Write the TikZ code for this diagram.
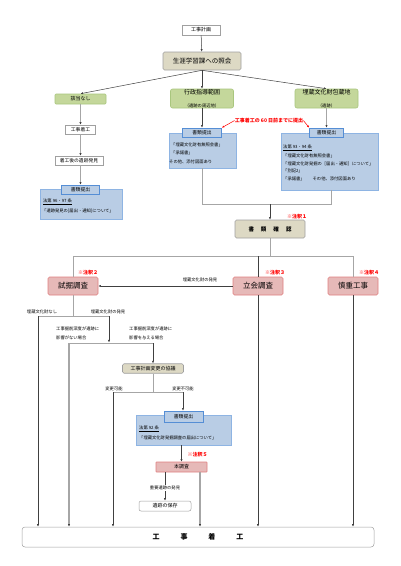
\documentclass[tikz,border=0pt]{standalone}
\usepackage{fontspec}
\setmainfont{Noto Sans CJK JP}
\usetikzlibrary{arrows.meta}
\definecolor{tanc}{HTML}{DDD9C4}
\definecolor{boxgray}{HTML}{A0A0A0}
\definecolor{greenc}{HTML}{C4D79B}
\definecolor{greenb}{HTML}{A9C67E}
\definecolor{bluec}{HTML}{B9CDE5}
\definecolor{blueb}{HTML}{8EB4E3}
\definecolor{tabb}{HTML}{558ED5}
\definecolor{pinkc}{HTML}{E6B9B8}
\definecolor{pinkb}{HTML}{E08080}
\definecolor{grayl}{HTML}{A6A6A6}
\definecolor{darkl}{HTML}{404040}
\definecolor{notered}{HTML}{FF0000}
\newcommand\fsz[1]{\fontsize{#1}{#1}\selectfont}
\tikzset{
  base/.style={inner sep=0pt, align=center, text=black},
  whitebox/.style={base, draw=boxgray, fill=white, line width=0.5pt},
  tanbox/.style={base, draw=boxgray, fill=tanc, rounded corners=1.5pt, line width=0.6pt},
  greenbox/.style={base, draw=greenb, fill=greenc, rounded corners=2pt, line width=0.6pt},
  bluebox/.style={base, draw=blueb, fill=bluec, line width=0.6pt},
  tabbox/.style={base, draw=tabb, fill=bluec, line width=0.6pt, font=\fsz{4.8}},
  pinkbox/.style={base, draw=pinkb, fill=pinkc, rounded corners=1.5pt, line width=0.6pt},
  tip/.style={-{Latex[length=2.6pt,width=2.2pt,color=darkl]}},
  darkarrow/.style={draw=darkl, line width=0.5pt, tip},
  darkline/.style={draw=darkl, line width=0.5pt},
  grayline/.style={draw=grayl, line width=0.6pt},
  graythick/.style={draw=grayl, line width=1.6pt, tip},
  redarrow/.style={draw=notered, line width=0.5pt, -{Latex[length=2.4pt,width=2pt]}},
  note/.style={inner sep=0pt, text=notered, font=\fsz{5}\bfseries},
  lbl/.style={inner sep=0pt, font=\fsz{4.3}},
}
\begin{document}
\begin{tikzpicture}[x=1pt,y=-1pt]
\useasboundingbox (0,0) rectangle (400,566);
\fill[white] (0,0) rectangle (400,566);

% top
\node[whitebox, minimum width=38pt, minimum height=10pt, font=\fsz{5}] (plan) at (201,30) {工事計画};
\node[tanbox, minimum width=78pt, minimum height=18pt, font=\fsz{6.5}] (shogai) at (202,61) {生涯学習課への照会};
\node[greenbox, rounded corners=1pt, minimum width=51pt, minimum height=10pt, font=\fsz{5}] (gaitou) at (80.5,99) {該当なし};
\node[greenbox, minimum width=63pt, minimum height=19pt] (gyosei) at (202,98.5) {\fsz{6}行政指導範囲\\[1pt]\fsz{4.3}（遺跡の周辺地）};
\node[greenbox, minimum width=63pt, minimum height=19pt] (maizo) at (326.5,98.5) {\fsz{6}埋蔵文化財包蔵地\\[1pt]\fsz{4.3}（遺跡）};

\draw[darkarrow] (plan) -- (shogai);
\draw[darkarrow] (shogai.south) -- (gaitou.north);
\draw[darkarrow] (shogai.south) -- (gyosei.north);
\draw[darkarrow] (shogai.south) -- (maizo.north);

% left column
\node[whitebox, minimum width=30pt, minimum height=9pt, font=\fsz{4.8}] (chako1) at (80.5,129.5) {工事着工};
\node[whitebox, minimum width=48pt, minimum height=9pt, font=\fsz{4.8}] (hakken) at (79,160.5) {着工後の遺跡発見};
\node[bluebox, minimum width=82pt, minimum height=30pt] (doc1) at (81,204) {};
\node[tabbox, minimum width=38pt, minimum height=9pt] (tab1) at (80.5,189.5) {書類提出};
\node[lbl, anchor=west] (t1a) at (43,202) {\underline{法第 96・97 条}};
\node[lbl, anchor=west] (t1b) at (42,211) {「遺跡発見の[届出・通知]について」};

\draw[graythick] (gaitou) -- (chako1);
\draw[graythick] (chako1.south) -- (chako1.south |- hakken.north);
\draw[graythick] (hakken.south -| tab1.north) -- (tab1.north);

% middle documents
\node[bluebox, minimum width=67pt, minimum height=35pt] (doc2) at (202.5,150.5) {};
\node[tabbox, minimum width=39pt, minimum height=9pt] (tab2) at (202,132.5) {書類提出};
\node[lbl, anchor=west] (t2a) at (171,145) {「埋蔵文化財有無照会書」};
\node[lbl, anchor=west] (t2b) at (171,153) {「承諾書」};
\node[lbl, anchor=west] (t2c) at (169,161.5) {その他、添付図面あり};

\node[bluebox, minimum width=97pt, minimum height=57pt] (doc3) at (329.5,161.5) {};
\node[tabbox, minimum width=34pt, minimum height=9pt] (tab3) at (326.5,132.5) {書類提出};
\node[lbl, anchor=west] (t3a) at (283,148) {\underline{法第 93・94 条}};
\node[lbl, anchor=west] (t3b) at (283,155.7) {「埋蔵文化財有無照会書」};
\node[lbl, anchor=west] (t3c) at (283,163.4) {「埋蔵文化財発掘の［届出・通知］について」};
\node[lbl, anchor=west] (t3d) at (283,171.1) {「別記2」};
\node[lbl, anchor=west] (t3e) at (283,178.8) {「承諾書」\hspace{8pt}その他、添付図面あり};

\draw[darkarrow] (gyosei.south) -- (tab2.north);
\draw[graythick] (maizo.south) -- (tab3.north);

\node[note] (due) at (269,120.5) {工事着工の 60 日前までに提出};
\draw[redarrow] (due.west) -- (tab2.north east);
\draw[redarrow] (due.east) -- (tab3.north west);

% document check
\node[tanbox, minimum width=70pt, minimum height=18pt, font=\fsz{5.5}\bfseries] (kakunin) at (270,229) {書\hspace{7pt}類\hspace{7pt}確\hspace{7pt}認};
\node[note] (n1) at (297,217) {※注釈１};
\coordinate (j3) at (331,204);
\coordinate (jm) at (270,204);
\draw[grayline] (doc2.south) |- (j3) -- (j3 |- doc3.south);
\draw[darkarrow] (jm) -- (kakunin.north);

% three surveys
\node[pinkbox, minimum width=50pt, minimum height=18pt, font=\fsz{7.5}] (shikutsu) at (73,286) {試掘調査};
\node[pinkbox, minimum width=50pt, minimum height=18pt, font=\fsz{7.5}] (tachiai) at (258,286) {立会調査};
\node[pinkbox, minimum width=50pt, minimum height=18pt, font=\fsz{7.5}] (shincho) at (353,286) {慎重工事};
\node[note] (n2) at (88,273) {※注釈２};
\node[note] (n3) at (275,273) {※注釈３};
\node[note] (n4) at (369,273) {※注釈４};

\coordinate (k) at (270,256);
\coordinate (kl) at (73,256);
\coordinate (kr) at (353,256);
\draw[grayline] (kakunin.south) -- (k);
\draw[grayline] (shikutsu.north) -- (kl) -- (kr) -- (shincho.north);
\draw[darkline] (tachiai.north) -- (tachiai.north |- k);

\draw[darkarrow] (tachiai.west) -- (shikutsu.east);
\node[lbl] (hk1) at (200,280) {埋蔵文化財の発見};

% 試掘 branches
\coordinate (s) at (73,316);
\coordinate (sl) at (38,316);
\coordinate (sr) at (109,316);
\draw[grayline] (shikutsu.south) -- (s);
\draw[grayline] (sl) -- (sr);
\node[lbl] (nashi) at (42,312) {埋蔵文化財なし};
\node[lbl] (hk2) at (108,312) {埋蔵文化財の発見};

\coordinate (e) at (109,342.5);
\coordinate (el) at (69,343);
\coordinate (er) at (153,343);
\draw[darkarrow] (sr) -- (e);
\draw[grayline] (el) -- (er);
\node[lbl, anchor=west] (c1a) at (56,329) {工事掘削深度が遺跡に};
\node[lbl, anchor=west] (c1b) at (56,338) {影響がない場合};
\node[lbl, anchor=west] (c2a) at (129,329) {工事掘削深度が遺跡に};
\node[lbl, anchor=west] (c2b) at (129,338) {影響を与える場合};

\node[tanbox, minimum width=61pt, minimum height=9.5pt, font=\fsz{5}] (kyogi) at (153,368.5) {工事計画変更の協議};
\draw[darkarrow] (er) -- (kyogi.north);

\coordinate (v) at (153,392);
\coordinate (vl) at (113,392);
\coordinate (vr) at (183,392);
\draw[grayline] (kyogi.south) -- (v);
\draw[grayline] (vl) -- (vr);
\node[lbl] (kanou) at (114,389.3) {変更可能};
\node[lbl] (fukanou) at (183,389.3) {変更不可能};

\node[bluebox, minimum width=95pt, minimum height=30pt] (doc4) at (183.5,430) {};
\node[tabbox, minimum width=39pt, minimum height=11pt] (tab4) at (183.5,416.5) {書類提出};
\node[lbl, anchor=west] (t4a) at (139,429) {\underline{法第 92 条}};
\node[lbl, anchor=west] (t4b) at (139,437.5) {「埋蔵文化財発掘調査の届出について」};
\draw[darkarrow] (vr) -- (vr |- tab4.north);

\node[pinkbox, minimum width=51pt, minimum height=10pt, rounded corners=0.5pt, font=\fsz{5}] (honcho) at (181.5,467) {本調査};
\node[note] (n5) at (197.5,455) {※注釈５};
\draw[darkarrow] (doc4.south -| honcho.north) -- (honcho.north);

\node[whitebox, rounded corners=2pt, minimum width=52pt, minimum height=10pt, font=\fsz{5}] (hozon) at (165,506) {遺跡の保存};
\node[lbl, inner sep=1pt] (juyo) at (165,488) {重要遺跡の発見};
\draw[darkline] (honcho.south -| juyo.north) -- (juyo.north);
\draw[darkarrow] (juyo.south) -- (hozon.north);
\coordinate (hr) at (200,472);

% final
\node[whitebox, rounded corners=3pt, minimum width=352pt, minimum height=20pt, font=\fsz{7}\bfseries] (final) at (198,537) {工\hspace{21pt}事\hspace{21pt}着\hspace{21pt}工};

\draw[darkarrow] (sl) -- (sl |- final.north);
\draw[graythick] (el) -- (el |- final.north);
\draw[darkarrow] (vl) -- (vl |- final.north);
\draw[graythick] (hr) -- (hr |- final.north);
\draw[darkarrow] (tachiai.south) -- (tachiai.south |- final.north);
\draw[darkarrow] (shincho.south) -- (shincho.south |- final.north);
\end{tikzpicture}
\end{document}
